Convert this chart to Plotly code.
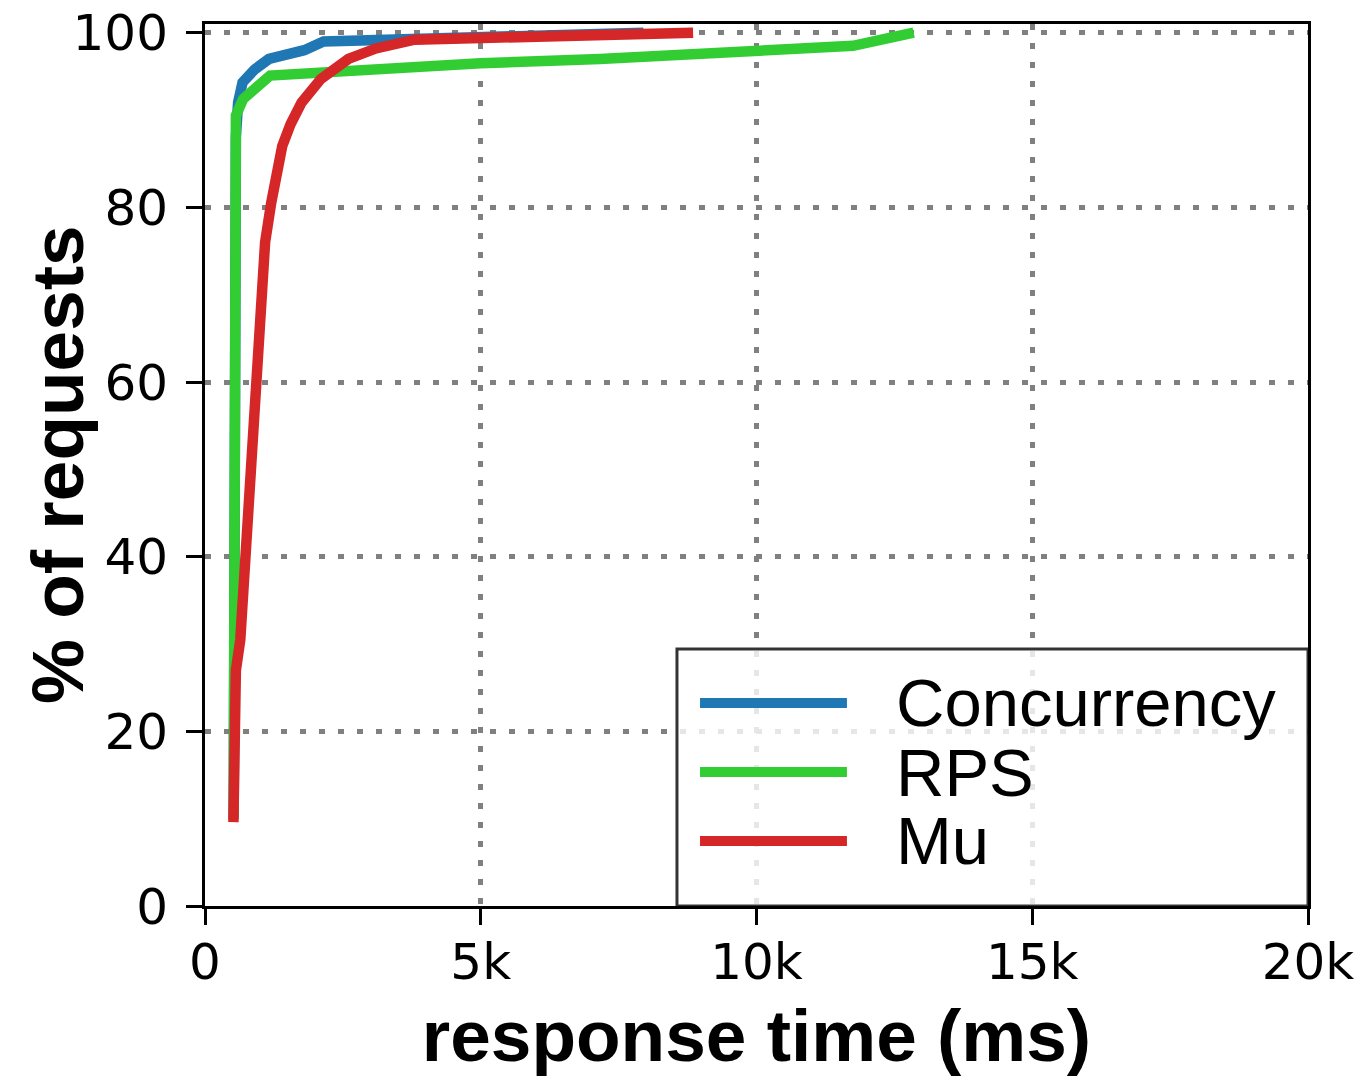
import plotly.graph_objects as go

# ---- data ----
series_names = ["Concurrency", "RPS", "Mu"]
series_colors = ["#1f77b4", "#32cd32", "#d62728"]

concurrency_ms = [520, 520, 530, 560, 600, 680, 900, 1160, 1800, 2150, 7950]
concurrency_pct = [10, 50, 80, 88, 92, 94.3, 95.8, 97.0, 98.0, 99.0, 100]

rps_ms = [520, 520, 530, 560, 690, 1180, 5000, 7160, 11750, 12850]
rps_pct = [10, 50, 85, 90.5, 92.4, 95.1, 96.5, 97.0, 98.5, 100]

mu_ms = [515, 515, 560, 640, 730, 820, 910, 1000, 1090, 1200, 1400, 1550, 1750,
         2100, 2600, 3100, 3800, 8850]
mu_pct = [9.6, 23.5, 27, 30.5, 40, 50, 60, 70, 76, 80.5, 87, 89.5, 92,
          94.7, 97, 98.2, 99.2, 100]

x_tick_vals = [0, 5000, 10000, 15000, 20000]
x_tick_text = ["0", "5k", "10k", "15k", "20k"]
y_tick_vals = [0, 20, 40, 60, 80, 100]

x_title = "response time (ms)"
y_title = "% of requests"

xs = [concurrency_ms, rps_ms, mu_ms]
ys = [concurrency_pct, rps_pct, mu_pct]

fig = go.Figure()
for name, color, x, y in zip(series_names, series_colors, xs, ys):
    fig.add_trace(go.Scatter(x=x, y=y, mode="lines", name=name,
                             line=dict(color=color, width=10.5),
                             showlegend=False))

grid = dict(showgrid=True, gridcolor="#808080", gridwidth=5, griddash="6px,13px",
            zeroline=False, showline=True, linecolor="black", linewidth=3,
            mirror=True, ticks="outside", ticklen=16, tickwidth=3, tickcolor="black",
            tickfont=dict(family="DejaVu Sans", size=50, color="black"))

title_font = dict(family="Liberation Sans", size=73, color="black", weight="bold")

fig.update_xaxes(range=[0, 20000], tickvals=x_tick_vals, ticktext=x_tick_text,
                 title=dict(text=x_title, font=title_font, standoff=20),
                 ticklabelstandoff=-6, **grid)
fig.update_yaxes(range=[0, 101], tickvals=y_tick_vals,
                 ticklabelstandoff=8, **grid)

# ---- custom legend (long line samples like the reference) ----
shapes = [dict(type="rect", xref="paper", yref="paper", x0=0.4279, x1=1.0, y0=0.0, y1=0.2914,
               fillcolor="rgba(255,255,255,0.8)", line=dict(color="rgba(0,0,0,0.8)", width=3),
               layer="above")]
annotations = [dict(xref="paper", yref="paper", x=0, y=0.5, xshift=-148, text=y_title,
                    textangle=-90, showarrow=False, xanchor="center", yanchor="middle",
                    font=title_font)]
row_y = [0.2302, 0.1519, 0.0737]
for name, color, ry in zip(series_names, series_colors, row_y):
    shapes.append(dict(type="line", xref="paper", yref="paper", x0=0.4488, x1=0.5820,
                       y0=ry, y1=ry, line=dict(color=color, width=10), layer="above"))
    annotations.append(dict(xref="paper", yref="paper", x=0.6250, y=ry, text=name,
                            showarrow=False, xanchor="left", yanchor="middle",
                            font=dict(family="Liberation Sans", size=67, color="black")))

fig.update_layout(width=1367, height=1076,
                  margin=dict(l=205, r=59, t=24, b=170, autoexpand=False),
                  paper_bgcolor="white", plot_bgcolor="white",
                  shapes=shapes, annotations=annotations, showlegend=False)

fig.write_html("out.html")
